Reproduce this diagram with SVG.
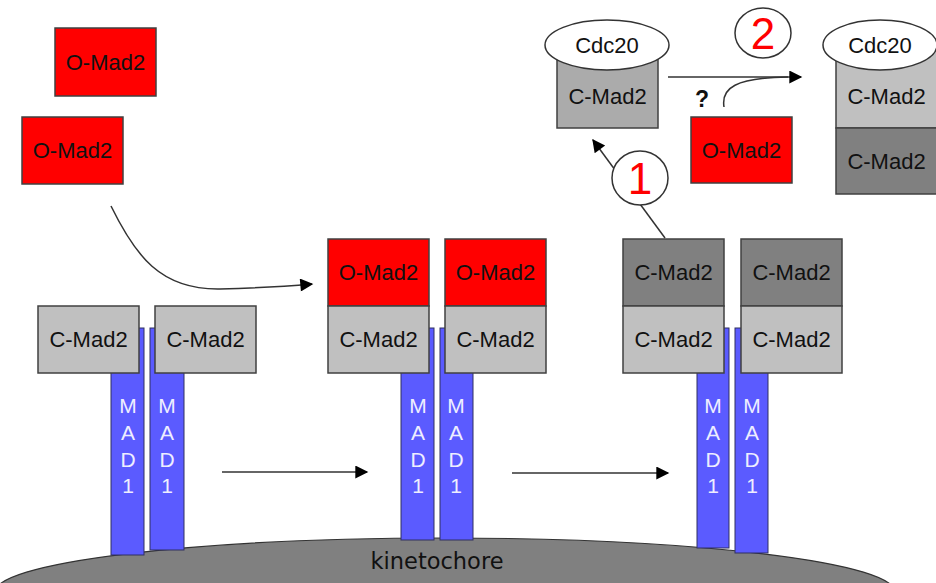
<svg xmlns="http://www.w3.org/2000/svg" width="936" height="583" viewBox="0 0 936 583">
<defs>
<marker id="ah" viewBox="0 0 10 10" refX="9" refY="5" markerWidth="15" markerHeight="13" markerUnits="userSpaceOnUse" orient="auto">
<path d="M0,0 L10,5 L0,10 z" fill="#000"/>
</marker>
<style>
.box{stroke:#404040;stroke-width:1.5}
.red{fill:#FF0000}
.lg{fill:#C0C0C0}
.mg{fill:#ABABAB}
.dg{fill:#808080}
.bar{fill:#5B5BFF;stroke:#303060;stroke-width:1}
.t{font-family:"Liberation Sans",Arial,sans-serif;font-size:22px;fill:#111;text-anchor:middle}
.m{font-family:"Liberation Sans",Arial,sans-serif;font-size:21px;fill:#EEF;text-anchor:middle}
.ln{fill:none;stroke:#333;stroke-width:1.5}
.circ{fill:#fff;stroke:#333;stroke-width:1.5}
.num{font-family:"Liberation Sans",Arial,sans-serif;font-size:44px;fill:#FF0000;text-anchor:middle}
</style>
</defs>
<rect width="936" height="583" fill="#fff"/>

<g id="kinetochore">
<ellipse cx="445" cy="592" rx="450" ry="54" fill="#808080" stroke="#333" stroke-width="1.2"/>
<text x="437" y="569" class="t" style="font-family:'DejaVu Sans',sans-serif;font-size:22.5px">kinetochore</text>
</g>

<g id="free-omad2-1">
<rect class="box red" x="55" y="28" width="101" height="68"/>
<text class="t" x="105.5" y="70">O-Mad2</text>
</g>
<g id="free-omad2-2">
<rect class="box red" x="22" y="117" width="101" height="67"/>
<text class="t" x="72.5" y="158">O-Mad2</text>
</g>

<g id="stage1">
<rect class="bar" x="111" y="328" width="33" height="227"/>
<rect class="bar" x="150" y="328" width="34" height="222"/>
<text class="m" x="128" y="413">M</text><text class="m" x="128" y="440">A</text><text class="m" x="128" y="467">D</text><text class="m" x="128" y="493">1</text>
<text class="m" x="167" y="413">M</text><text class="m" x="167" y="440">A</text><text class="m" x="167" y="467">D</text><text class="m" x="167" y="493">1</text>
<rect class="box lg" x="38" y="306" width="101" height="67"/>
<text class="t" x="88.5" y="347">C-Mad2</text>
<rect class="box lg" x="155" y="306" width="101" height="67"/>
<text class="t" x="205.5" y="347">C-Mad2</text>
</g>

<g id="stage2">
<rect class="bar" x="401" y="328" width="33" height="212"/>
<rect class="bar" x="440" y="328" width="33" height="212"/>
<text class="m" x="418" y="413">M</text><text class="m" x="418" y="440">A</text><text class="m" x="418" y="467">D</text><text class="m" x="418" y="493">1</text>
<text class="m" x="456" y="413">M</text><text class="m" x="456" y="440">A</text><text class="m" x="456" y="467">D</text><text class="m" x="456" y="493">1</text>
<rect class="box red" x="328" y="239" width="101" height="67"/>
<text class="t" x="378.5" y="280">O-Mad2</text>
<rect class="box lg" x="328" y="306" width="101" height="67"/>
<text class="t" x="378.5" y="347">C-Mad2</text>
<rect class="box red" x="445" y="239" width="101" height="67"/>
<text class="t" x="495.5" y="280">O-Mad2</text>
<rect class="box lg" x="445" y="306" width="101" height="67"/>
<text class="t" x="495.5" y="347">C-Mad2</text>
</g>

<g id="stage3">
<rect class="bar" x="697" y="328" width="32" height="220"/>
<rect class="bar" x="735" y="328" width="33" height="225"/>
<text class="m" x="713" y="413">M</text><text class="m" x="713" y="440">A</text><text class="m" x="713" y="467">D</text><text class="m" x="713" y="493">1</text>
<text class="m" x="752" y="413">M</text><text class="m" x="752" y="440">A</text><text class="m" x="752" y="467">D</text><text class="m" x="752" y="493">1</text>
<rect class="box dg" x="623" y="239" width="101" height="67"/>
<text class="t" x="673.5" y="280">C-Mad2</text>
<rect class="box lg" x="623" y="306" width="101" height="67"/>
<text class="t" x="673.5" y="347">C-Mad2</text>
<rect class="box dg" x="741" y="239" width="101" height="67"/>
<text class="t" x="791.5" y="280">C-Mad2</text>
<rect class="box lg" x="741" y="306" width="101" height="67"/>
<text class="t" x="791.5" y="347">C-Mad2</text>
</g>

<g id="connectors">
<path class="ln" d="M111,206 C135,255 160,290 220,289 C260,288 290,286 312,284" marker-end="url(#ah)"/>
<line class="ln" x1="222" y1="472" x2="367" y2="472" marker-end="url(#ah)"/>
<line class="ln" x1="512" y1="473" x2="668" y2="473" marker-end="url(#ah)"/>
<line class="ln" x1="665" y1="238" x2="593" y2="140" marker-end="url(#ah)"/>
<line class="ln" x1="668" y1="77" x2="801" y2="77" marker-end="url(#ah)"/>
<path class="ln" d="M724,107 C721,88 735,78 788,77"/>
</g>

<g id="step1">
<ellipse class="circ" cx="640" cy="178" rx="28" ry="27"/>
<text class="num" x="640" y="194">1</text>
</g>
<g id="step2">
<ellipse class="circ" cx="763" cy="33" rx="28" ry="25"/>
<text class="num" x="763" y="49">2</text>
</g>

<g id="cdc20-cmad2">
<rect class="box mg" x="557" y="45" width="101" height="83"/>
<text class="t" x="607.5" y="104">C-Mad2</text>
<ellipse cx="607" cy="45" rx="62" ry="25" fill="#fff" stroke="#333" stroke-width="1.5"/>
<text class="t" x="607" y="53">Cdc20</text>
</g>

<g id="question">
<text x="702" y="107" style="font-family:'Liberation Sans',Arial,sans-serif;font-size:23px;font-weight:bold;text-anchor:middle;fill:#111">?</text>
</g>

<g id="omad2-top">
<rect class="box red" x="691" y="117" width="101" height="66"/>
<text class="t" x="741.5" y="158">O-Mad2</text>
</g>

<g id="cdc20-complex">
<rect class="box lg" x="836" y="45" width="101" height="83"/>
<text class="t" x="886.5" y="104">C-Mad2</text>
<rect class="box dg" x="836" y="128" width="101" height="66"/>
<text class="t" x="886.5" y="169">C-Mad2</text>
<ellipse cx="880" cy="45" rx="57" ry="25" fill="#fff" stroke="#333" stroke-width="1.5"/>
<text class="t" x="880" y="53">Cdc20</text>
</g>
</svg>
